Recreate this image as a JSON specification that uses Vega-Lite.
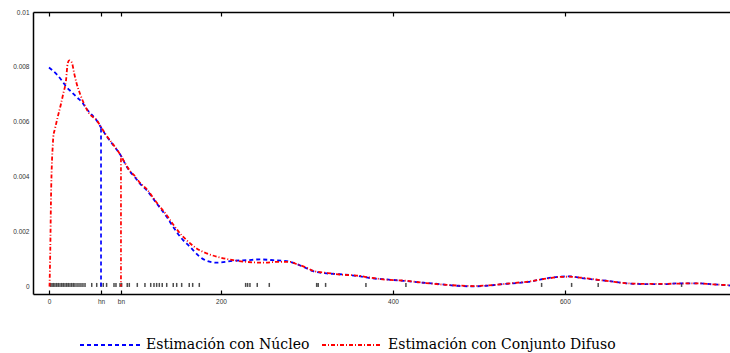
{
  "$schema": "https://vega.github.io/schema/vega-lite/v6.json",
  "autosize": "none",
  "width": 697,
  "height": 282,
  "padding": {"left": 33, "top": 12, "right": 0, "bottom": 59},
  "background": "white",
  "config": {
    "view": {"stroke": null},
    "axis": {"grid": false, "domainColor": "black", "domainWidth": 1.5, "tickColor": "black", "tickWidth": 1.2, "labelFont": "Liberation Sans", "labelFontSize": 6.5, "labelColor": "#333333", "title": null}
  },
  "datasets": {
    "curves": [
      {"series": "Estimación con Núcleo", "x": 0, "y": 0.00798},
      {"series": "Estimación con Núcleo", "x": 9, "y": 0.00773},
      {"series": "Estimación con Núcleo", "x": 14.8, "y": 0.00751},
      {"series": "Estimación con Núcleo", "x": 19.8, "y": 0.00729},
      {"series": "Estimación con Núcleo", "x": 26.4, "y": 0.00708},
      {"series": "Estimación con Núcleo", "x": 32.9, "y": 0.00688},
      {"series": "Estimación con Núcleo", "x": 38.7, "y": 0.0067},
      {"series": "Estimación con Núcleo", "x": 45, "y": 0.00642},
      {"series": "Estimación con Núcleo", "x": 55.5, "y": 0.00605},
      {"series": "Estimación con Núcleo", "x": 61.3, "y": 0.00575},
      {"series": "Estimación con Núcleo", "x": 67.1, "y": 0.00547},
      {"series": "Estimación con Núcleo", "x": 78.7, "y": 0.00499},
      {"series": "Estimación con Núcleo", "x": 84.5, "y": 0.00472},
      {"series": "Estimación con Núcleo", "x": 88.4, "y": 0.00448},
      {"series": "Estimación con Núcleo", "x": 94.2, "y": 0.00419},
      {"series": "Estimación con Núcleo", "x": 100, "y": 0.00398},
      {"series": "Estimación con Núcleo", "x": 105.8, "y": 0.00375},
      {"series": "Estimación con Núcleo", "x": 113.6, "y": 0.00351},
      {"series": "Estimación con Núcleo", "x": 125.2, "y": 0.00303},
      {"series": "Estimación con Núcleo", "x": 136.9, "y": 0.00254},
      {"series": "Estimación con Núcleo", "x": 144.5, "y": 0.00217},
      {"series": "Estimación con Núcleo", "x": 154.3, "y": 0.00175},
      {"series": "Estimación con Núcleo", "x": 164, "y": 0.00145},
      {"series": "Estimación con Núcleo", "x": 175.6, "y": 0.00108},
      {"series": "Estimación con Núcleo", "x": 183.4, "y": 0.00094},
      {"series": "Estimación con Núcleo", "x": 195, "y": 0.00087},
      {"series": "Estimación con Núcleo", "x": 214.3, "y": 0.00094},
      {"series": "Estimación con Núcleo", "x": 229.9, "y": 0.00096},
      {"series": "Estimación con Núcleo", "x": 245.3, "y": 0.00099},
      {"series": "Estimación con Núcleo", "x": 260.8, "y": 0.00096},
      {"series": "Estimación con Núcleo", "x": 276.4, "y": 0.00093},
      {"series": "Estimación con Núcleo", "x": 288, "y": 0.00082},
      {"series": "Estimación con Núcleo", "x": 300, "y": 0.00066},
      {"series": "Estimación con Núcleo", "x": 307.3, "y": 0.00056},
      {"series": "Estimación con Núcleo", "x": 322.9, "y": 0.00048},
      {"series": "Estimación con Núcleo", "x": 338.4, "y": 0.00045},
      {"series": "Estimación con Núcleo", "x": 357.8, "y": 0.00039},
      {"series": "Estimación con Núcleo", "x": 373.3, "y": 0.00031},
      {"series": "Estimación con Núcleo", "x": 392.7, "y": 0.00026},
      {"series": "Estimación con Núcleo", "x": 412, "y": 0.00021},
      {"series": "Estimación con Núcleo", "x": 435.2, "y": 0.00014},
      {"series": "Estimación con Núcleo", "x": 454.7, "y": 0.00009},
      {"series": "Estimación con Núcleo", "x": 474.1, "y": 0.00003},
      {"series": "Estimación con Núcleo", "x": 493.4, "y": 0.00001},
      {"series": "Estimación con Núcleo", "x": 509, "y": 0.00003},
      {"series": "Estimación con Núcleo", "x": 524.4, "y": 0.00008},
      {"series": "Estimación con Núcleo", "x": 539.9, "y": 0.00012},
      {"series": "Estimación con Núcleo", "x": 557.3, "y": 0.00017},
      {"series": "Estimación con Núcleo", "x": 578.7, "y": 0.0003},
      {"series": "Estimación con Núcleo", "x": 594.2, "y": 0.00036},
      {"series": "Estimación con Núcleo", "x": 605.8, "y": 0.00037},
      {"series": "Estimación con Núcleo", "x": 617.4, "y": 0.00032},
      {"series": "Estimación con Núcleo", "x": 632.9, "y": 0.00026},
      {"series": "Estimación con Núcleo", "x": 652.3, "y": 0.0002},
      {"series": "Estimación con Núcleo", "x": 671.7, "y": 0.00012},
      {"series": "Estimación con Núcleo", "x": 695, "y": 0.00009},
      {"series": "Estimación con Núcleo", "x": 714.3, "y": 0.00009},
      {"series": "Estimación con Núcleo", "x": 733.7, "y": 0.00012},
      {"series": "Estimación con Núcleo", "x": 753.1, "y": 0.00012},
      {"series": "Estimación con Núcleo", "x": 772.4, "y": 0.00008},
      {"series": "Estimación con Núcleo", "x": 792, "y": 0.00004},
      {"series": "Estimación con Conjunto Difuso", "x": 0.6, "y": 0},
      {"series": "Estimación con Conjunto Difuso", "x": 1.5, "y": 0.00133},
      {"series": "Estimación con Conjunto Difuso", "x": 2.3, "y": 0.00315},
      {"series": "Estimación con Conjunto Difuso", "x": 3.5, "y": 0.0046},
      {"series": "Estimación con Conjunto Difuso", "x": 4.3, "y": 0.00508},
      {"series": "Estimación con Conjunto Difuso", "x": 5, "y": 0.00545},
      {"series": "Estimación con Conjunto Difuso", "x": 7, "y": 0.00575},
      {"series": "Estimación con Conjunto Difuso", "x": 9.7, "y": 0.00612},
      {"series": "Estimación con Conjunto Difuso", "x": 14, "y": 0.00666},
      {"series": "Estimación con Conjunto Difuso", "x": 16.6, "y": 0.00703},
      {"series": "Estimación con Conjunto Difuso", "x": 19.8, "y": 0.00751},
      {"series": "Estimación con Conjunto Difuso", "x": 21.7, "y": 0.00812},
      {"series": "Estimación con Conjunto Difuso", "x": 23.6, "y": 0.00824},
      {"series": "Estimación con Conjunto Difuso", "x": 26.4, "y": 0.00817},
      {"series": "Estimación con Conjunto Difuso", "x": 29.4, "y": 0.00775},
      {"series": "Estimación con Conjunto Difuso", "x": 32.2, "y": 0.00739},
      {"series": "Estimación con Conjunto Difuso", "x": 36, "y": 0.00703},
      {"series": "Estimación con Conjunto Difuso", "x": 40.7, "y": 0.00666},
      {"series": "Estimación con Conjunto Difuso", "x": 46.9, "y": 0.0063},
      {"series": "Estimación con Conjunto Difuso", "x": 55.5, "y": 0.00606},
      {"series": "Estimación con Conjunto Difuso", "x": 61.3, "y": 0.00577},
      {"series": "Estimación con Conjunto Difuso", "x": 67.1, "y": 0.00549},
      {"series": "Estimación con Conjunto Difuso", "x": 78.7, "y": 0.005},
      {"series": "Estimación con Conjunto Difuso", "x": 84.5, "y": 0.00472},
      {"series": "Estimación con Conjunto Difuso", "x": 88.4, "y": 0.0045},
      {"series": "Estimación con Conjunto Difuso", "x": 94.2, "y": 0.00421},
      {"series": "Estimación con Conjunto Difuso", "x": 100, "y": 0.00402},
      {"series": "Estimación con Conjunto Difuso", "x": 105.8, "y": 0.00378},
      {"series": "Estimación con Conjunto Difuso", "x": 113.6, "y": 0.00355},
      {"series": "Estimación con Conjunto Difuso", "x": 125.2, "y": 0.00306},
      {"series": "Estimación con Conjunto Difuso", "x": 136.9, "y": 0.0026},
      {"series": "Estimación con Conjunto Difuso", "x": 144.5, "y": 0.00226},
      {"series": "Estimación con Conjunto Difuso", "x": 154.3, "y": 0.00187},
      {"series": "Estimación con Conjunto Difuso", "x": 160.1, "y": 0.00169},
      {"series": "Estimación con Conjunto Difuso", "x": 171.7, "y": 0.00139},
      {"series": "Estimación con Conjunto Difuso", "x": 183.4, "y": 0.00121},
      {"series": "Estimación con Conjunto Difuso", "x": 198.8, "y": 0.00106},
      {"series": "Estimación con Conjunto Difuso", "x": 214.3, "y": 0.00096},
      {"series": "Estimación con Conjunto Difuso", "x": 229.9, "y": 0.0009},
      {"series": "Estimación con Conjunto Difuso", "x": 249.2, "y": 0.00087},
      {"series": "Estimación con Conjunto Difuso", "x": 264.8, "y": 0.0009},
      {"series": "Estimación con Conjunto Difuso", "x": 280.2, "y": 0.0009},
      {"series": "Estimación con Conjunto Difuso", "x": 288, "y": 0.00082},
      {"series": "Estimación con Conjunto Difuso", "x": 300, "y": 0.00068},
      {"series": "Estimación con Conjunto Difuso", "x": 307.3, "y": 0.00057},
      {"series": "Estimación con Conjunto Difuso", "x": 322.9, "y": 0.0005},
      {"series": "Estimación con Conjunto Difuso", "x": 338.4, "y": 0.00044},
      {"series": "Estimación con Conjunto Difuso", "x": 357.8, "y": 0.0004},
      {"series": "Estimación con Conjunto Difuso", "x": 373.3, "y": 0.00033},
      {"series": "Estimación con Conjunto Difuso", "x": 392.7, "y": 0.00025},
      {"series": "Estimación con Conjunto Difuso", "x": 412, "y": 0.00022},
      {"series": "Estimación con Conjunto Difuso", "x": 435.2, "y": 0.00014},
      {"series": "Estimación con Conjunto Difuso", "x": 454.7, "y": 0.00008},
      {"series": "Estimación con Conjunto Difuso", "x": 474.1, "y": 0.00004},
      {"series": "Estimación con Conjunto Difuso", "x": 493.4, "y": 0.00002},
      {"series": "Estimación con Conjunto Difuso", "x": 509, "y": 0.00004},
      {"series": "Estimación con Conjunto Difuso", "x": 524.4, "y": 0.00008},
      {"series": "Estimación con Conjunto Difuso", "x": 539.9, "y": 0.00013},
      {"series": "Estimación con Conjunto Difuso", "x": 557.3, "y": 0.00018},
      {"series": "Estimación con Conjunto Difuso", "x": 578.7, "y": 0.00029},
      {"series": "Estimación con Conjunto Difuso", "x": 594.2, "y": 0.00035},
      {"series": "Estimación con Conjunto Difuso", "x": 605.8, "y": 0.00036},
      {"series": "Estimación con Conjunto Difuso", "x": 617.4, "y": 0.00033},
      {"series": "Estimación con Conjunto Difuso", "x": 632.9, "y": 0.00027},
      {"series": "Estimación con Conjunto Difuso", "x": 652.3, "y": 0.00019},
      {"series": "Estimación con Conjunto Difuso", "x": 671.7, "y": 0.00012},
      {"series": "Estimación con Conjunto Difuso", "x": 695, "y": 0.0001},
      {"series": "Estimación con Conjunto Difuso", "x": 714.3, "y": 0.0001},
      {"series": "Estimación con Conjunto Difuso", "x": 733.7, "y": 0.00011},
      {"series": "Estimación con Conjunto Difuso", "x": 753.1, "y": 0.00012},
      {"series": "Estimación con Conjunto Difuso", "x": 772.4, "y": 0.00008},
      {"series": "Estimación con Conjunto Difuso", "x": 792, "y": 0.00005}
    ],
    "bw": [
      {"series": "Estimación con Núcleo", "x": 60.5, "y": 0.00576},
      {"series": "Estimación con Conjunto Difuso", "x": 83.7, "y": 0.00467}
    ],
    "obs": [
      {"x": 1.7}, {"x": 3.5}, {"x": 5.2}, {"x": 7}, {"x": 9}, {"x": 10.8}, {"x": 12.8}, {"x": 14.8}, {"x": 16.6}, {"x": 18.6},
      {"x": 20.6}, {"x": 22.4}, {"x": 24.4}, {"x": 26.4}, {"x": 28.3}, {"x": 30.2}, {"x": 32.6}, {"x": 34.9}, {"x": 37.2}, {"x": 39.5},
      {"x": 41.9}, {"x": 49.7}, {"x": 55.5}, {"x": 60.5}, {"x": 63.1}, {"x": 67}, {"x": 75.6}, {"x": 77.9}, {"x": 82.6}, {"x": 84.5},
      {"x": 91}, {"x": 93.4}, {"x": 102.7}, {"x": 111.6}, {"x": 118.3}, {"x": 122.1}, {"x": 125.2}, {"x": 128.3}, {"x": 131.7}, {"x": 136.9},
      {"x": 144.5}, {"x": 148.5}, {"x": 154.3}, {"x": 163.1}, {"x": 167.1}, {"x": 174.8}, {"x": 228.7}, {"x": 231}, {"x": 233.7}, {"x": 242.2},
      {"x": 256.2}, {"x": 311.3}, {"x": 313.1}, {"x": 321.7}, {"x": 368.6}, {"x": 415.1}, {"x": 572.9}, {"x": 607.8}, {"x": 638.7}, {"x": 735.7}
    ]
  },
  "resolve": {"axis": {"x": "independent"}},
  "layer": [
    {
      "data": {"name": "obs"},
      "mark": {"type": "tick", "color": "black", "size": 4, "thickness": 1.5},
      "encoding": {
        "x": {"field": "x", "type": "quantitative", "scale": {"domain": [-18.6, 792], "nice": false, "zero": false},
          "axis": {"orient": "bottom", "values": [0, 60.5, 83.7, 200, 400, 600], "tickSize": -4, "labelPadding": 8,
            "labelExpr": "datum.value == 60.5 ? 'hn' : datum.value == 83.7 ? 'bn' : datum.label"}},
        "y": {"datum": 0.00006, "type": "quantitative", "scale": {"domain": [-0.00027, 0.01], "nice": false, "zero": false},
          "axis": {"orient": "left", "values": [0, 0.002, 0.004, 0.006, 0.008, 0.01], "format": "~g", "ticks": false, "labelPadding": 4}}
      }
    },
    {
      "data": {"name": "bw"},
      "mark": {"type": "rule", "strokeWidth": 1.7},
      "encoding": {
        "x": {"field": "x", "type": "quantitative", "axis": {"orient": "top", "values": [0, 60.5, 83.7, 200, 400, 600], "tickSize": -4, "labels": false}},
        "y": {"field": "y", "type": "quantitative"},
        "y2": {"datum": 0},
        "color": {"field": "series", "type": "nominal",
          "scale": {"domain": ["Estimación con Núcleo", "Estimación con Conjunto Difuso"], "range": ["#0000ff", "#ff0000"]}},
        "strokeDash": {"field": "series", "type": "nominal",
          "scale": {"domain": ["Estimación con Núcleo", "Estimación con Conjunto Difuso"], "range": [[4, 3], [4, 2, 1, 2]]}}
      }
    },
    {
      "data": {"name": "curves"},
      "mark": {"type": "line", "strokeWidth": 1.8, "interpolate": "monotone"},
      "encoding": {
        "x": {"field": "x", "type": "quantitative", "axis": null},
        "y": {"field": "y", "type": "quantitative"},
        "color": {"field": "series", "type": "nominal", "title": null,
          "scale": {"domain": ["Estimación con Núcleo", "Estimación con Conjunto Difuso"], "range": ["#0000ff", "#ff0000"]},
          "legend": {"orient": "none", "direction": "horizontal", "legendX": 46, "legendY": 302, "padding": 0,
            "symbolType": "stroke", "symbolSize": 3600, "symbolStrokeWidth": 1.8, "labelFont": "DejaVu Serif", "labelFontSize": 14,
            "labelColor": "black", "columnPadding": 8, "labelOffset": 5, "labelLimit": 400}},
        "strokeDash": {"field": "series", "type": "nominal", "title": null,
          "scale": {"domain": ["Estimación con Núcleo", "Estimación con Conjunto Difuso"], "range": [[4, 3], [4, 2, 1, 2]]},
          "legend": {"orient": "none", "direction": "horizontal", "legendX": 46, "legendY": 302, "padding": 0,
            "symbolType": "stroke", "symbolSize": 3600, "symbolStrokeWidth": 1.8, "labelFont": "DejaVu Serif", "labelFontSize": 14,
            "labelColor": "black", "columnPadding": 8, "labelOffset": 5, "labelLimit": 400}}
      }
    }
  ]
}
